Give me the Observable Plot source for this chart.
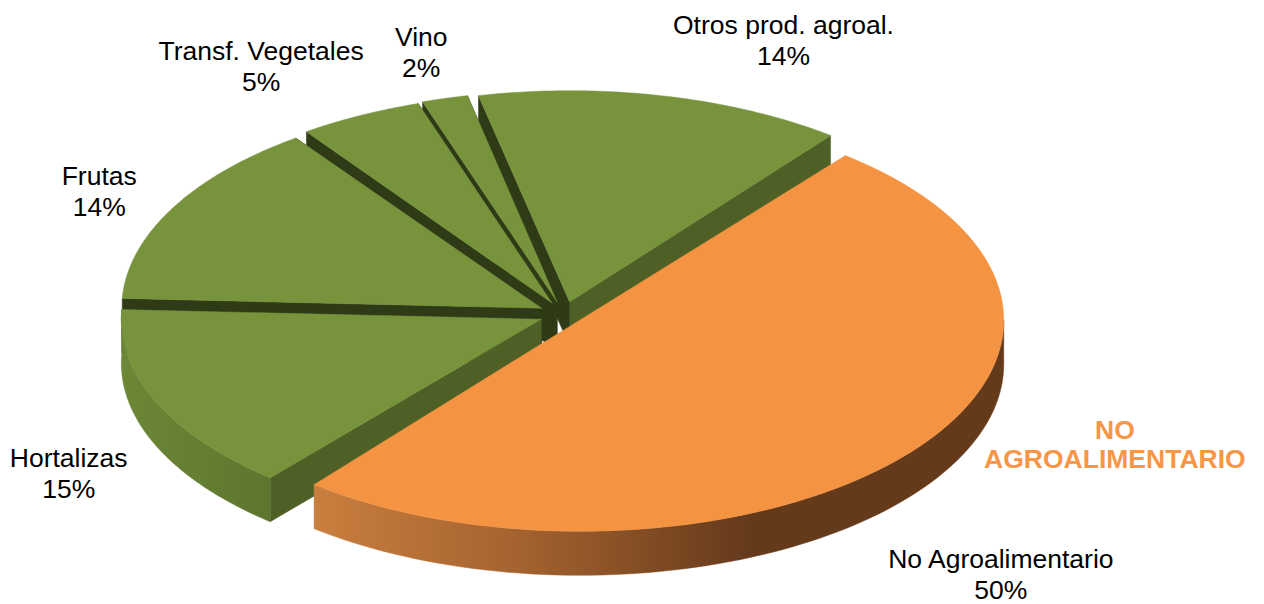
<!DOCTYPE html>
<html><head><meta charset="utf-8">
<style>html,body{margin:0;padding:0;background:#fff}svg{display:block}</style>
<script src="https://cdn.jsdelivr.net/npm/d3@7"></script>
<script src="https://cdn.jsdelivr.net/npm/@observablehq/plot@0.6"></script>
</head><body><script>
const categories = ["Otros prod. agroal.", "Vino", "Transf. Vegetales", "Frutas", "Hortalizas", "No Agroalimentario"];
const shares = [14, 2, 5, 14, 15, 50];
const percentLabels = ["14%", "2%", "5%", "14%", "15%", "50%"];
const annotation = "NO\nAGROALIMENTARIO";

// view of the tilted pie
const cx = 563.5, cy = 313.5, wall = 44, startDeg = 52;
const explode = [25, 25, 25, 25, 25, 20];
const radius = [424, 424, 424, 420, 420, 424];
const tilts = [0.498, 0.498, 0.496, 0.5, 0.494, 0.498];
// small angular corrections for the perspective of the original drawing
const startTweak = [0, -0.2, -1.2, -1.75, -0.66, -0.8];
const endTweak = [0, -1.1, -2.2, -0.7, -2.2, -0.8];
const topFill = ["#77933c", "#77933c", "#77933c", "#77933c", "#77933c", "#f49443"];
const rimFill = ["#4e6026", "#2f3b17", "#2f3b17", "url(#greenRim)", "url(#greenRim)", "url(#orangeRim)"];
const startFace = ["#4e6026", "#2f3b17", "#2f3b17", "#2f3b17", "#2f3b17", "none"];
const endFace = ["#2f3b17", "#2f3b17", "#2f3b17", "#2f3b17", "#4e6026", "none"];
const labelDx = [120, -19, -88, -69, -92, 87], labelDy = [-56, -47, -53, -21.5, 66, 123.5];

const total = d3.sum(shares);
const rad = (d) => (d * Math.PI) / 180;
const slices = [];
let acc = startDeg;
shares.forEach((v, i) => {
  const b0 = acc, b1 = acc + (v / total) * 360;
  acc = b1;
  const mid = (b0 + b1) / 2;
  const a0 = b0 + startTweak[i], a1 = b1 + endTweak[i];
  const R = radius[i], tilt = tilts[i];
  const ox = explode[i] * Math.cos(rad(mid)), oy = explode[i] * Math.sin(rad(mid));
  const P = (a, r = R, drop = 0) => ({
    x: cx + ox + r * Math.cos(rad(a)),
    y: cy - tilt * (oy + r * Math.sin(rad(a))) + drop
  });
  const arc = d3.range(0, 81).map((k) => a0 + ((a1 - a0) * k) / 80);
  // only the front of a rim faces the viewer
  const r0 = Math.max(a0, 170), r1 = Math.min(a1, 360);
  const front = r1 > r0 ? d3.range(0, 81).map((k) => r0 + ((r1 - r0) * k) / 80) : [];
  slices.push({
    i,
    apex: P(0, 0),
    apexD: P(0, 0, wall),
    s: P(a0), sD: P(a0, R, wall),
    e: P(a1), eD: P(a1, R, wall),
    top: [P(0, 0), ...arc.map((a) => P(a))],
    rim: [...front.map((a) => P(a)), ...front.slice().reverse().map((a) => P(a, R, wall))],
    rimMid: P(mid)
  });
});

const poly = (pts, fill) => Plot.line([...pts, pts[0]], {x: "x", y: "y", fill, stroke: fill, strokeWidth: 0.5, curve: "linear"});
const defs = () => {
  const d = d3.create("svg:defs");
  const grad = (id, stops) => {
    const g = d.append("linearGradient").attr("id", id).attr("x1", 0).attr("x2", 1).attr("y1", 0).attr("y2", 0);
    stops.forEach(([o, c]) => g.append("stop").attr("offset", o).attr("stop-color", c));
  };
  grad("greenRim", [[0, "#6c8736"], [1, "#5d762f"]]);
  grad("orangeRim", [[0, "#c97f3e"], [0.3, "#a4622f"], [0.63, "#653a1b"], [1, "#653a1b"]]);
  return d.node();
};

const marks = [defs];
slices.forEach((s) => {
  if (startFace[s.i] !== "none") marks.push(poly([s.apex, s.s, s.sD, s.apexD], startFace[s.i]));
  if (endFace[s.i] !== "none") marks.push(poly([s.apex, s.e, s.eD, s.apexD], endFace[s.i]));
  if (s.rim.length && s.i > 3) marks.push(poly(s.rim, rimFill[s.i]));
  marks.push(poly(s.top, topFill[s.i]));
});
const labels = slices.map((s) => ({...s.rimMid, text: categories[s.i] + "\n" + percentLabels[s.i], i: s.i}));
labels.forEach((l) => {
  marks.push(Plot.text([l], {x: "x", y: "y", text: "text", dx: labelDx[l.i], dy: labelDy[l.i], fontSize: 26.5, lineHeight: 1.17, fill: "#000", fontFamily: "Liberation Sans"}));
});
marks.push(Plot.text([labels[5]], {x: "x", y: "y", text: () => annotation, dx: 201, dy: -6, fontSize: 26.5, fontWeight: "bold", lineHeight: 1.09, fill: "#f79646", fontFamily: "Liberation Sans"}));

document.body.append(Plot.plot({
  width: 1264, height: 604, margin: 0,
  x: {type: "linear", domain: [0, 1264], range: [0, 1264], axis: null},
  y: {type: "linear", domain: [0, 604], range: [0, 604], axis: null},
  style: {background: "#fff"},
  marks
}));
</script></body></html>
